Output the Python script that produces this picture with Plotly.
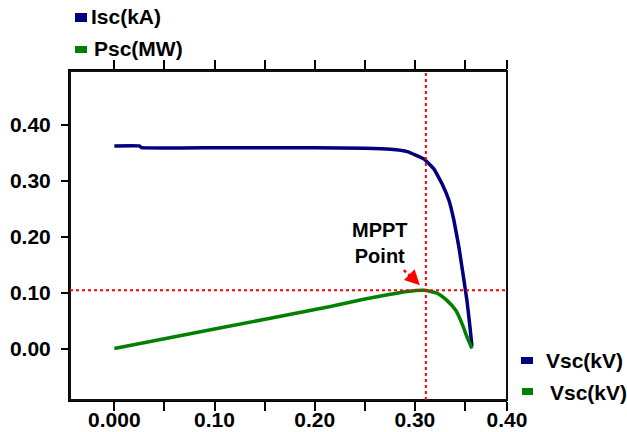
import plotly.graph_objects as go

# ---- data ----
vsc_i = [0.0, 0.025, 0.027, 0.10, 0.20, 0.25, 0.2757, 0.2924, 0.309, 0.319, 0.327,
         0.334, 0.339, 0.344, 0.348, 0.352, 0.355, 0.357]
isc = [0.362, 0.362, 0.359, 0.359, 0.359, 0.358, 0.356, 0.352, 0.339, 0.321, 0.295,
       0.265, 0.229, 0.181, 0.134, 0.086, 0.039, 0.004]
vsc_p = [0.0, 0.10, 0.2157, 0.249, 0.2757, 0.2924, 0.309, 0.322, 0.332, 0.341, 0.347,
         0.352, 0.357]
psc = [0.0, 0.035, 0.075, 0.088, 0.097, 0.102, 0.104, 0.099, 0.086, 0.068, 0.045,
       0.021, 0.0]
mppt_v = 0.311
mppt_p = 0.104
x_tickvals = [0.0, 0.1, 0.2, 0.3, 0.392]
x_ticktext = ["0.000", "0.10", "0.20", "0.30", "0.40"]
y_tickvals = [0.0, 0.1, 0.2, 0.3, 0.4]
y_ticktext = ["0.00", "0.10", "0.20", "0.30", "0.40"]
legend_top = ["Isc(kA)", "Psc(MW)"]
legend_bottom = ["Vsc(kV)", "Vsc(kV)"]

BLUE = "#000080"
GREEN = "#008000"
RED = "#ff0000"
FONT = "Arial"

W, H = 627, 432
ML, MR, MT, MB = 70, 120, 71, 32
PW, PH = W - ML - MR, H - MT - MB


def px(x):
    return (x - ML) / PW


def py(y):
    return (H - MB - y) / PH


fig = go.Figure()
fig.add_trace(go.Scatter(x=vsc_i, y=isc, mode="lines",
                         line=dict(color=BLUE, width=3.5, shape="spline", smoothing=0.25),
                         name="Isc(kA)", showlegend=False))
fig.add_trace(go.Scatter(x=vsc_p, y=psc, mode="lines",
                         line=dict(color=GREEN, width=3.5, shape="spline", smoothing=0.5),
                         name="Psc(MW)", showlegend=False))

# frame around the plot area (drawn in paper pixels)
fig.add_shape(type="rect", xref="paper", yref="paper",
              x0=px(70), x1=px(507), y0=py(400), y1=py(71),
              line=dict(color="#111111", width=2), fillcolor="rgba(0,0,0,0)",
              layer="above")

# MPPT reference lines
fig.add_shape(type="line", xref="paper", yref="y", x0=0, x1=1, y0=mppt_p, y1=mppt_p,
              line=dict(color=RED, width=2, dash="dot"))
fig.add_shape(type="line", xref="x", yref="paper", x0=mppt_v, x1=mppt_v, y0=0, y1=1,
              line=dict(color=RED, width=2, dash="dot"))

# MPPT label and dashed arrow
fig.add_annotation(x=0.2652, y=0.188, xref="x", yref="y", text="<b>MPPT<br>Point</b>",
                   showarrow=False, font=dict(family=FONT, size=20, color="black"),
                   align="center")
fig.add_shape(type="line", xref="x", yref="y", x0=0.289, y0=0.140, x1=0.300, y1=0.122,
              line=dict(color=RED, width=2.5, dash="dot"))
fig.add_annotation(x=0.305, y=0.113, ax=0.300, ay=0.122, xref="x", yref="y",
                   axref="x", ayref="y", text="", showarrow=True, arrowhead=2,
                   arrowsize=1.5, arrowwidth=2, arrowcolor=RED)

# custom legends
legend_items = [
    (legend_top[0], BLUE, (75, 87, 13, 22), 89, 17),
    (legend_top[1], GREEN, (75, 87, 46, 53), 92, 48),
    (legend_bottom[0], BLUE, (521, 533, 357, 364), 544, 360),
    (legend_bottom[1], GREEN, (522, 533, 388, 395), 548, 392),
]
for text, col, (x0, x1, y0, y1), tx, ty in legend_items:
    fig.add_shape(type="rect", xref="paper", yref="paper", x0=px(x0), x1=px(x1),
                  y0=py(y1), y1=py(y0), fillcolor=col, line=dict(width=0))
    fig.add_annotation(x=px(tx), y=py(ty), xref="paper", yref="paper", text=f"<b>{text}</b>",
                       showarrow=False, xanchor="left", yanchor="middle",
                       font=dict(family=FONT, size=21, color="black"))

fig.update_layout(
    width=W, height=H,
    margin=dict(l=ML, r=MR, t=MT, b=MB, pad=0, autoexpand=False),
    paper_bgcolor="white", plot_bgcolor="white",
    showlegend=False,
    font=dict(family=FONT, color="black"),
)
fig.update_xaxes(range=[-0.0443, 0.392], tickvals=x_tickvals, ticktext=x_ticktext,
                 automargin=False,
                 showgrid=False, zeroline=False, showline=True, linecolor="black",
                 linewidth=2, mirror="allticks", ticks="outside", ticklen=9, tickwidth=1.5,
                 tickcolor="black", ticklabelstandoff=-9,
                 tickfont=dict(family=FONT, size=21, color="black", weight="bold"),
                 minor=dict(tickvals=[0.05, 0.15, 0.25, 0.35], ticks="outside", ticklen=9,
                            tickwidth=1.5, tickcolor="black"))
fig.update_yaxes(range=[-0.092, 0.496], tickvals=y_tickvals, ticktext=y_ticktext,
                 automargin=False,
                 showgrid=False, zeroline=False, showline=True, linecolor="black",
                 linewidth=2, mirror=False, ticks="outside", ticklen=7, tickwidth=1.5,
                 tickcolor="black", ticklabelstandoff=6,
                 tickfont=dict(family=FONT, size=21, color="black", weight="bold"))

fig.write_html("out.html")
